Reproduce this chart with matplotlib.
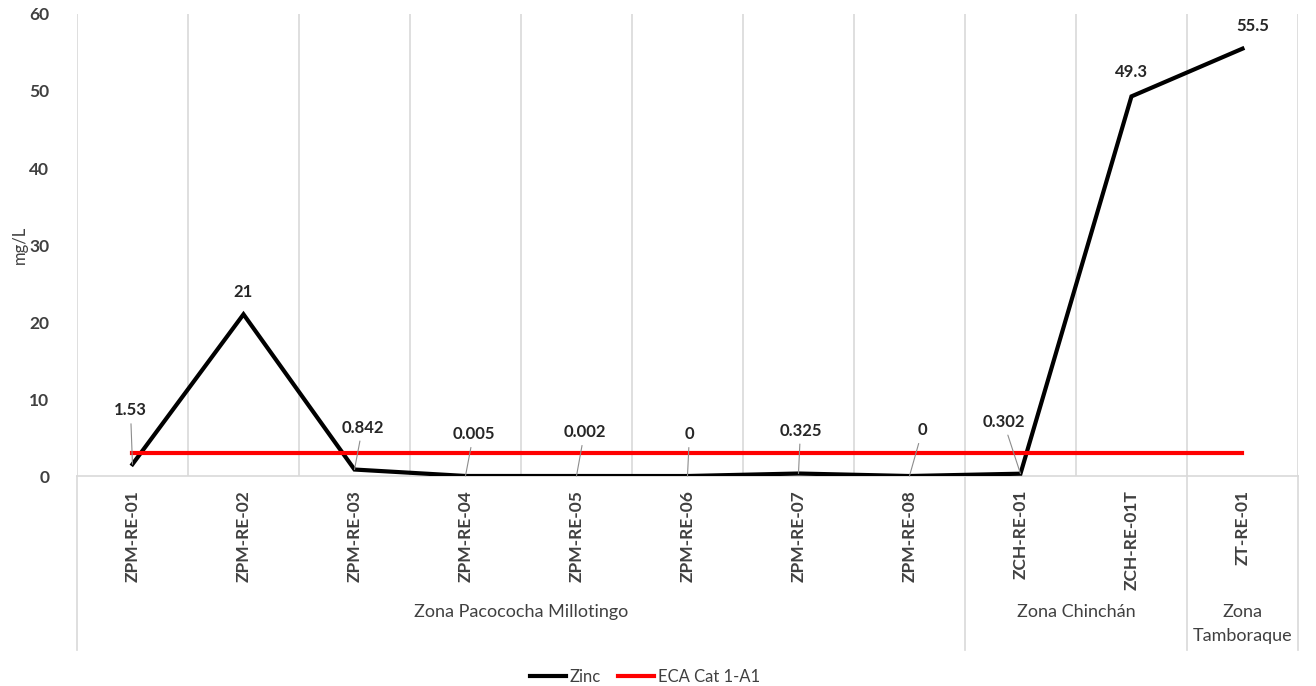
import numpy as np
import matplotlib.pyplot as plt
import matplotlib.transforms as mtransforms

plt.rcParams['font.family'] = ['Lato', 'DejaVu Sans']

categories = ["ZPM-RE-01", "ZPM-RE-02", "ZPM-RE-03", "ZPM-RE-04", "ZPM-RE-05",
              "ZPM-RE-06", "ZPM-RE-07", "ZPM-RE-08", "ZCH-RE-01", "ZCH-RE-01T",
              "ZT-RE-01"]
zinc = [1.53, 21, 0.842, 0.005, 0.002, 0, 0.325, 0, 0.302, 49.3, 55.5]
zinc_labels = ["1.53", "21", "0.842", "0.005", "0.002", "0", "0.325", "0", "0.302", "49.3", "55.5"]
eca = [3] * len(categories)
groups = ["Zona Pacococha Millotingo", "Zona Chinchán", "Zona\nTamboraque"]
group_sizes = [8, 2, 1]

# label offsets in pixels (dx, dy) and whether a leader line is drawn
label_offsets = [(-2, 54), (0, 22), (8, 42), (8, 42), (8, 44), (2, 42),
                 (2, 43), (13, 46), (-17, 52), (0, 24), (10, 23)]
leader = [True, False, True, True, True, True, True, True, True, False, False]

grid_c = '#d9d9d9'
text_c = '#404040'

fig = plt.figure(figsize=(13.16, 6.86), dpi=100)
ax = fig.add_axes([0.0585, 0.3061, 0.9278, 0.6735])

x = np.arange(len(categories))
ax.plot(x, zinc, color='black', lw=3, solid_joinstyle='miter', label='Zinc', zorder=3)
ax.plot(x, eca, color='#ff0000', lw=3, label='ECA Cat 1-A1', zorder=4)

for i, (v, lab) in enumerate(zip(zinc, zinc_labels)):
    dx, dy = label_offsets[i]
    ax.annotate(lab, (i, v), xytext=(dx, dy), textcoords='offset pixels',
                ha='center', va='center', fontsize=12, fontweight='bold',
                color='#262626', zorder=5,
                arrowprops=dict(arrowstyle='-', color='#8c8c8c', lw=0.8,
                                shrinkA=2, shrinkB=0) if leader[i] else None)

ax.set_xlim(-0.5, len(categories) - 0.5)
ax.set_ylim(0, 60)
ax.set_yticks(np.arange(0, 61, 10))
ax.set_xticks(x)
ax.set_xticklabels(categories, rotation=90, fontsize=12.5, fontweight='bold',
                   color=text_c, va='top')
ax.set_xticks(np.arange(-0.5, len(categories), 1), minor=True)
ax.tick_params(axis='both', which='both', length=0)
ax.tick_params(axis='x', which='major', pad=10)
ax.tick_params(axis='y', labelsize=12.5, labelcolor=text_c, pad=20)
for t in ax.get_yticklabels():
    t.set_fontweight('bold')
ax.grid(axis='x', which='minor', color=grid_c, lw=1.2)
ax.set_ylabel('mg/L', fontsize=12, color=text_c, labelpad=1)
for s in ['top', 'right', 'left']:
    ax.spines[s].set_visible(False)
ax.spines['bottom'].set_color(grid_c)
ax.spines['bottom'].set_linewidth(1.2)

# group separators and group labels below the axis
trans = mtransforms.blended_transform_factory(ax.transData, ax.transAxes)
edges = np.concatenate([[0], np.cumsum(group_sizes)]) - 0.5
for e in edges:
    ax.plot([e, e], [0, -0.376], color=grid_c, lw=1.2, transform=trans, clip_on=False)
for g, a, b in zip(groups, edges[:-1], edges[1:]):
    ax.text((a + b) / 2, -0.278, g, transform=trans, ha='center', va='top',
            fontsize=13, color=text_c, linespacing=1.55)

fig.legend(loc='lower center', bbox_to_anchor=(0.49, -0.02), ncol=2, frameon=False,
           fontsize=12, handlelength=2.2, handletextpad=0.2, columnspacing=1.0,
           labelcolor=text_c)

fig.savefig('out.png', dpi=100)
